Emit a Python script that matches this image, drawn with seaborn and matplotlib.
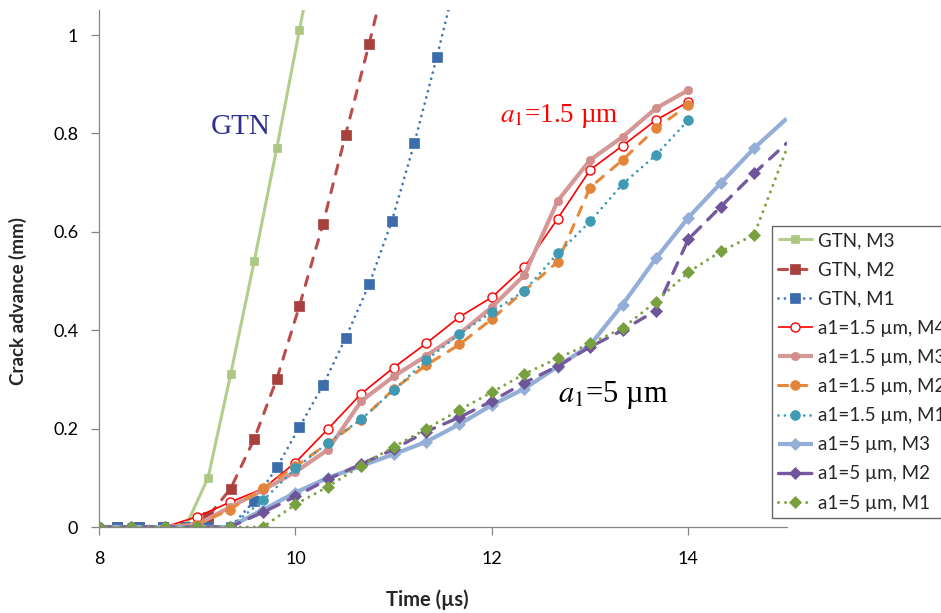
import matplotlib
matplotlib.use("Agg")
import matplotlib.pyplot as plt
import seaborn as sns

# ---------------- data ----------------
t_gtn = [8.18, 8.41, 8.65, 8.88, 9.11, 9.34, 9.58, 9.81, 10.04, 10.28,
         10.51, 10.75, 10.98, 11.21, 11.44, 11.68]
gtn_m3 = [0, 0, 0, 0, 0.10, 0.31, 0.54, 0.77, 1.01, 1.25]
gtn_m2 = [0, 0, 0, 0, 0.021, 0.078, 0.179, 0.301, 0.449, 0.616, 0.797, 0.982, 1.17]
gtn_m1 = [0, 0, 0, 0, 0, 0, 0.053, 0.121, 0.203, 0.288, 0.384, 0.493, 0.621,
          0.780, 0.956, 1.15]

t_a15 = [8, 8.33, 8.67, 9, 9.33, 9.67, 10, 10.33, 10.67, 11, 11.33, 11.67,
         12, 12.33, 12.67, 13, 13.33, 13.67, 14]
a15_m4 = [0, 0, 0, 0.021, 0.050, 0.078, 0.131, 0.199, 0.271, 0.324, 0.373,
          0.427, 0.467, 0.528, 0.627, 0.726, 0.775, 0.827, 0.864]
a15_m3 = [0, 0, 0, 0.005, 0.040, 0.075, 0.112, 0.157, 0.256, 0.306, 0.348,
          0.393, 0.447, 0.512, 0.663, 0.746, 0.793, 0.851, 0.888]
a15_m2 = [0, 0, 0, 0.005, 0.035, 0.079, 0.123, 0.170, 0.218, 0.280, 0.329,
          0.371, 0.423, 0.480, 0.539, 0.690, 0.746, 0.810, 0.858]
a15_m1 = [0, 0, 0, 0, 0, 0.054, 0.119, 0.171, 0.219, 0.278, 0.339, 0.392,
          0.437, 0.480, 0.556, 0.621, 0.697, 0.756, 0.827]

t_a5 = [8, 8.33, 8.67, 9, 9.33, 9.67, 10, 10.33, 10.67, 11, 11.33, 11.67,
        12, 12.33, 12.67, 13, 13.33, 13.67, 14, 14.33, 14.67, 15]
a5_m3 = [0, 0, 0, 0, 0, 0.035, 0.070, 0.100, 0.124, 0.148, 0.173, 0.209,
         0.248, 0.281, 0.326, 0.370, 0.452, 0.546, 0.629, 0.699, 0.770, 0.830]
a5_m2 = [0, 0, 0, 0, 0, 0.030, 0.062, 0.097, 0.128, 0.158, 0.194, 0.223,
         0.256, 0.293, 0.327, 0.366, 0.400, 0.440, 0.585, 0.651, 0.719, 0.780]
a5_m1 = [0, 0, 0, 0, 0, 0, 0.046, 0.082, 0.125, 0.163, 0.199, 0.238,
         0.274, 0.311, 0.343, 0.373, 0.404, 0.458, 0.518, 0.560, 0.594, 0.768]

labels = ["GTN, M3", "GTN, M2", "GTN, M1",
          "a1=1.5 µm, M4", "a1=1.5 µm, M3", "a1=1.5 µm, M2", "a1=1.5 µm, M1",
          "a1=5 µm, M3", "a1=5 µm, M2", "a1=5 µm, M1"]

x_ticks = [8, 10, 12, 14]
x_ticklabels = ["8", "10", "12", "14"]
y_ticks = [0, 0.2, 0.4, 0.6, 0.8, 1.0]
y_ticklabels = ["0", "0.2", "0.4", "0.6", "0.8", "1"]

# ---------------- style ----------------
sns.set_theme(style="white")
plt.rcParams['font.family'] = ['Lato', 'DejaVu Sans']
plt.rcParams['mathtext.fontset'] = 'stix'

DOT = (0, (0.01, 2.3))
DASH = (0, (3.0, 3.3))

series = [
    (t_gtn, gtn_m3, dict(color='#B3CE8C', lw=2.2, ls='-', marker='s', ms=6,
                         mfc='#ABC783', mec='#ABC783', mew=0.5)),
    (t_gtn, gtn_m2, dict(color='#BC4C49', lw=2.2, ls=DASH, marker='s', ms=6.5,
                         mfc='#A8403D', mec='#A8403D', mew=0.5)),
    (t_gtn, gtn_m1, dict(color='#4174B4', lw=2.0, ls=DOT, marker='s', ms=6.5,
                         mfc='#3C6CAB', mec='#3C6CAB', mew=0.5)),
    (t_a15, a15_m4, dict(color='#FF0000', lw=1.2, ls='-', marker='o', ms=6.5,
                         mfc='white', mec='#FF0000', mew=1.0)),
    (t_a15, a15_m3, dict(color='#D69896', lw=3.0, ls='-', marker='o', ms=6,
                         mfc='#D18E8C', mec='#D18E8C', mew=0.5)),
    (t_a15, a15_m2, dict(color='#E8883A', lw=2.2, ls=DASH, marker='o', ms=7,
                         mfc='#E2843A', mec='#E2843A', mew=0.5)),
    (t_a15, a15_m1, dict(color='#3E9CB8', lw=2.0, ls=DOT, marker='o', ms=7,
                         mfc='#3F9AB4', mec='#3F9AB4', mew=0.5)),
    (t_a5, a5_m3, dict(color='#93AFD7', lw=3.0, ls='-', marker='D', ms=6.5,
                       mfc='#93AFD7', mec='#93AFD7', mew=0.5, markevery=slice(0, -1))),
    (t_a5, a5_m2, dict(color='#76599E', lw=2.4, ls=(0, (3.5, 3.0)), marker='D', ms=6.5,
                       mfc='#6E5499', mec='#6E5499', mew=0.5, markevery=slice(0, -1))),
    (t_a5, a5_m1, dict(color='#7FA443', lw=2.2, ls=DOT, marker='D', ms=6.5,
                       mfc='#78A03F', mec='#78A03F', mew=0.5, markevery=slice(0, -1))),
]

W, H = 941, 613
fig = plt.figure(figsize=(W / 100, H / 100), dpi=100)
ax = fig.add_axes([99 / W, 1 - 527 / H, (786.6 - 99) / W, (527 - 10.4) / H])

for (tx, vals, st), lab in zip(series, labels):
    st = dict(st)
    ls = st.pop('ls')
    sns.lineplot(x=tx[:len(vals)], y=vals, ax=ax, label=lab, linestyle=ls,
                 dash_capstyle='round', solid_capstyle='butt', **st)

ax.set_xlim(8, 15)
ax.set_ylim(0, 1.05)
ax.set_xticks(x_ticks)
ax.set_xticklabels(x_ticklabels)
ax.set_yticks(y_ticks)
ax.set_yticklabels(y_ticklabels)

for side in ['top', 'right']:
    ax.spines[side].set_visible(False)
for side in ['left', 'bottom']:
    ax.spines[side].set_color('#868686')
    ax.spines[side].set_linewidth(0.9)

ax.tick_params(axis='both', direction='out', length=6, width=0.9, color='#868686',
               labelsize=13, labelcolor='black')
ax.tick_params(axis='x', pad=11, bottom=True)
ax.tick_params(axis='y', pad=9, left=True)

ax.set_xlabel("Time (µs)", fontsize=14.5, fontweight='bold')
ax.set_ylabel("Crack advance (mm)", fontsize=13.5, fontweight='bold')
ax.xaxis.set_label_coords(0.477, -0.12)
ax.yaxis.set_label_coords(-0.105, 0.4375)

ax.text(9.136, 0.799, "GTN", family=['Liberation Serif'], fontsize=21,
        color='#2E3192', ha='left', va='baseline')
ax.text(12.085, 0.823, r"$a_1$=1.5 µm", family=['Liberation Serif'], fontsize=19.5,
        color='#FF0000', ha='left', va='baseline')
ax.text(12.675, 0.254, r"$a_1$=5 µm", family=['Liberation Serif'], fontsize=22,
        color='black', ha='left', va='baseline')

handles, labs = ax.get_legend_handles_labels()
leg = fig.legend(handles, labs, loc='upper left',
                 bbox_to_anchor=(772 / W, 1 - 226 / H), bbox_transform=fig.transFigure,
                 borderaxespad=0, frameon=True, fancybox=False, shadow=False,
                 fontsize=13.5, handlelength=1.85, handletextpad=0.3,
                 labelspacing=0.65, borderpad=0.32, numpoints=1)
leg.get_frame().set_edgecolor('#404040')
leg.get_frame().set_linewidth(1.0)
leg.get_frame().set_facecolor('white')
if ax.get_legend() is not None:
    ax.get_legend().remove()

fig.savefig("out.png", dpi=100)
